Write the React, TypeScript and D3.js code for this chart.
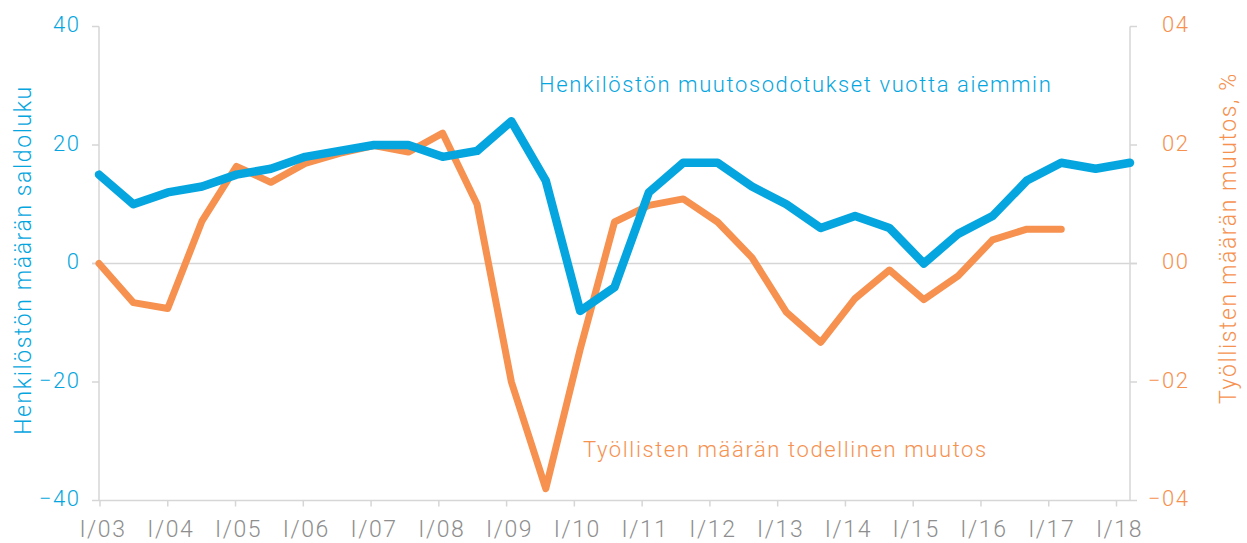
import React from "react";
import * as d3 from "d3";

const periods = [
  "I/03","III/03","I/04","III/04","I/05","III/05","I/06","III/06","I/07","III/07",
  "I/08","III/08","I/09","III/09","I/10","III/10","I/11","III/11","I/12","III/12",
  "I/13","III/13","I/14","III/14","I/15","III/15","I/16","III/16","I/17","III/17","I/18",
];
const expectations = [15,10,12,13,15,16,18,19,20,20,18,19,24,14,-8,-4,12,17,17,13,10,6,8,6,0,5,8,14,17,16,17];
const employment = [0,-0.066,-0.076,0.072,0.164,0.137,0.169,0.186,0.199,0.188,0.22,0.1,-0.2,-0.38,-0.145,0.07,0.098,0.109,0.07,0.01,-0.082,-0.133,-0.059,-0.011,-0.061,-0.021,0.04,0.058,0.058];
const yearTicks = [2003,2004,2005,2006,2007,2008,2009,2010,2011,2012,2013,2014,2015,2016,2017,2018];
const leftTicks = [40,20,0,-20,-40];
const rightTicks = [0.4,0.2,0,-0.2,-0.4];
const rightTickLabels = ["04","02","00","\u221202","\u221204"];

const BLUE = "#05a6e0";
const ORANGE = "#f6914f";
const GRAY = "#8e8e8e";
const AXIS = "#d6d6d6";
const FONT = "Roboto, sans-serif";
const LS = 1.6;

export default function App() {
  const W = 1247, H = 543;
  const left = 99, right = 1130, top = 26.5, bottom = 500.5;
  const x = d3.scalePoint<string>().domain(periods).range([left, right]);
  const xYear = d3.scaleLinear().domain([2003, 2018]).range([100, 1116.5]);
  const yL = d3.scaleLinear().domain([-40, 40]).range([bottom, top]);
  const yR = d3.scaleLinear().domain([-0.4, 0.4]).range([bottom, top]);

  const lineL = d3.line<number>().x((_, i) => x(periods[i])!).y((d) => yL(d));
  const lineR = d3.line<number>().x((_, i) => x(periods[i])!).y((d) => yR(d));

  const fmtLeft = (v: number) => (v < 0 ? "\u2212" + Math.abs(v) : String(v));

  return (
    <svg width={W} height={H} style={{ position: "absolute", left: 0, top: 0, background: "#fff" }} fontFamily={FONT} fontWeight={300} letterSpacing={LS}>
      {/* zero gridline */}
      <line x1={left - 7} x2={right + 7} y1={yL(0)} y2={yL(0)} stroke={AXIS} strokeWidth={1.5} />
      {/* axes */}
      <line x1={left} x2={left} y1={top} y2={bottom} stroke={AXIS} strokeWidth={1.5} />
      <line x1={right} x2={right} y1={top} y2={bottom} stroke={AXIS} strokeWidth={1.5} />
      <line x1={left} x2={right} y1={bottom} y2={bottom} stroke={AXIS} strokeWidth={1.5} />
      {leftTicks.map((t) => (
        <g key={"l" + t}>
          <line x1={left - 7} x2={left} y1={yL(t)} y2={yL(t)} stroke={AXIS} strokeWidth={1.5} />
          <text x={79 + LS} y={yL(t) + 5.5} textAnchor="end" fill={BLUE} fontSize={22}>
            {fmtLeft(t)}
          </text>
        </g>
      ))}
      {rightTicks.map((t, i) => (
        <g key={"r" + t}>
          <line x1={right} x2={right + 7} y1={yR(t)} y2={yR(t)} stroke={AXIS} strokeWidth={1.5} />
          <text x={1188 + LS} y={yR(t) + 5.5} textAnchor="end" fill={ORANGE} fontSize={22}>
            {rightTickLabels[i]}
          </text>
        </g>
      ))}
      {yearTicks.map((yr) => (
        <g key={"x" + yr}>
          <line x1={xYear(yr)} x2={xYear(yr)} y1={bottom} y2={bottom + 6} stroke={AXIS} strokeWidth={1.5} />
          <text x={xYear(yr) + 3} y={536.5} textAnchor="middle" fill={GRAY} fontSize={23}>
            {"I/" + String(yr).slice(2)}
          </text>
        </g>
      ))}
      {/* series */}
      <path d={lineR(employment)!} fill="none" stroke={ORANGE} strokeWidth={7} strokeLinejoin="round" strokeLinecap="round" />
      <path d={lineL(expectations)!} fill="none" stroke={BLUE} strokeWidth={8.5} strokeLinejoin="round" strokeLinecap="round" />
      {/* series labels */}
      <text x={539} y={92} fill={BLUE} fontSize={22}>
        Henkilöstön muutosodotukset vuotta aiemmin
      </text>
      <text x={583} y={457} fill={ORANGE} fontSize={22}>
        Työllisten määrän todellinen muutos
      </text>
      {/* axis titles */}
      <text transform="translate(31,260) rotate(-90)" textAnchor="middle" fill={BLUE} fontSize={23}>
        Henkilöstön määrän saldoluku
      </text>
      <text transform="translate(1236,238) rotate(-90)" textAnchor="middle" fill={ORANGE} fontSize={23}>
        Työllisten määrän muutos, %
      </text>
    </svg>
  );
}
